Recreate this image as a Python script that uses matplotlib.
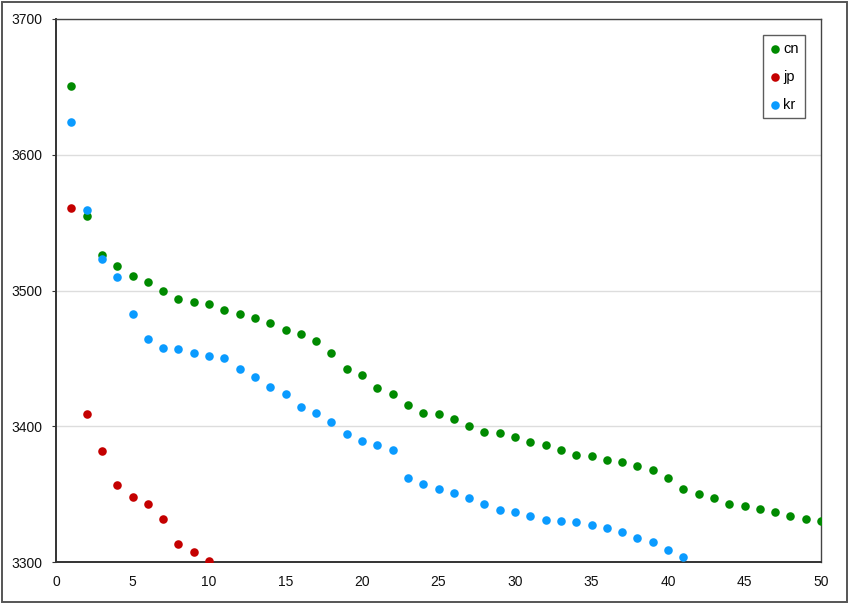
import matplotlib
matplotlib.use("Agg")
import matplotlib.pyplot as plt
from matplotlib.patches import Rectangle

plt.rcParams['font.family'] = ['Liberation Sans', 'DejaVu Sans']

cn_x = list(range(1, 51))
cn_y = [3651, 3555, 3526.5, 3518, 3511, 3506, 3500, 3494, 3491.7, 3489.7,
        3486, 3483, 3479.4, 3476, 3471, 3468, 3463, 3454, 3442, 3438,
        3428, 3423.5, 3416, 3410, 3409, 3405, 3400, 3396, 3395, 3392,
        3388.5, 3386.5, 3382.6, 3379, 3378, 3375, 3374, 3371, 3368, 3362,
        3354, 3350, 3347, 3343, 3341, 3339, 3337, 3334, 3332, 3330]

jp_x = list(range(1, 11))
jp_y = [3560.5, 3409, 3382, 3357, 3348, 3343, 3332, 3313, 3307, 3301]

kr_x = list(range(1, 42))
kr_y = [3624, 3559, 3523.5, 3510, 3483, 3464.5, 3458, 3456.6, 3453.7, 3451.5,
        3450, 3442, 3436.5, 3429, 3424, 3414, 3410, 3403, 3394, 3389.5,
        3386, 3382.6, 3362, 3357.6, 3354, 3351, 3347, 3343, 3338.5, 3337,
        3334, 3331, 3330, 3329.8, 3327, 3325, 3322, 3318, 3314.5, 3309,
        3304]

x_ticks = [0, 5, 10, 15, 20, 25, 30, 35, 40, 45, 50]
y_ticks = [3300, 3400, 3500, 3600, 3700]

fig = plt.figure(figsize=(8.5, 6.05), dpi=100)
ax = fig.add_axes([56/850, 43/605, 765/850, 543/605])

# figure border
fig.patches.append(Rectangle((2/850, 3/605), 845/850, 600/605, transform=fig.transFigure,
                             fill=False, edgecolor='#555555', linewidth=1.4))

ms = 38
ax.scatter(cn_x, cn_y, s=ms, color='#008A00', label='cn', zorder=3, linewidths=0)
ax.scatter(jp_x, jp_y, s=ms, color='#C40000', label='jp', zorder=3, linewidths=0)
ax.scatter(kr_x, kr_y, s=ms, color='#0A9BFF', label='kr', zorder=3, linewidths=0)

ax.set_xlim(0, 50)
ax.set_ylim(3300, 3700)
ax.set_xticks(x_ticks)
ax.set_yticks(y_ticks)
ax.yaxis.grid(True, color='#DDDDDD', linewidth=1)
ax.set_axisbelow(True)

ax.tick_params(axis='x', length=0, pad=9, labelsize=10, colors='#111111')
ax.tick_params(axis='y', length=3, pad=7, labelsize=10, colors='#111111', direction='out')
ax.tick_params(axis='y', color='#333333')

for side in ['left', 'bottom']:
    ax.spines[side].set_color('#333333')
    ax.spines[side].set_linewidth(1.4)
for side in ['top', 'right']:
    ax.spines[side].set_color('#444444')
    ax.spines[side].set_linewidth(1.0)

leg = ax.legend(loc='upper right', bbox_to_anchor=(805/850, 1 - 35/605), bbox_transform=fig.transFigure,
                frameon=True, fancybox=False, fontsize=10.5, handletextpad=0.15,
                handlelength=0.8, labelspacing=0.97, borderpad=0.45, borderaxespad=0,
                scatterpoints=1, markerscale=1.0)
leg.get_frame().set_edgecolor('#333333')
leg.get_frame().set_linewidth(1.0)

fig.savefig('out.png', dpi=100)
